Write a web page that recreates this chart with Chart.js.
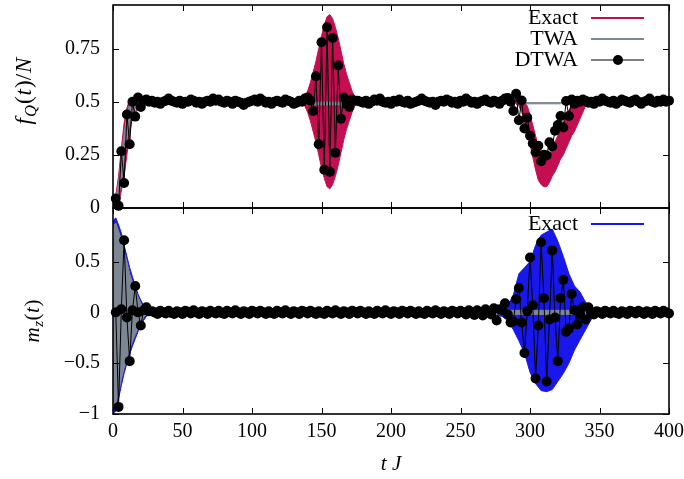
<!DOCTYPE html>
<html>
<head>
<meta charset="utf-8">
<script src="https://cdn.jsdelivr.net/npm/chart.js@4.4.0/dist/chart.umd.min.js"></script>
<style>
  html, body { margin: 0; padding: 0; background: #fff; }
  #wrap { position: relative; width: 684px; height: 479px; }
  #wrap canvas { position: absolute; left: 0; top: 0; }
</style>
</head>
<body>
<div id="wrap">
  <canvas id="topChart" width="684" height="479"></canvas>
  <canvas id="bottomChart" width="684" height="479"></canvas>
</div>
<script>
// axis ticks
const xTickValues = [0, 50, 100, 150, 200, 250, 300, 350, 400];
const topYTicks = [0, 0.25, 0.5, 0.75];
const bottomYTicks = [-1, -0.5, 0, 0.5];

// DTWA sample times (every 2 time units)
const dtwaTimes = [
  2, 4, 6, 8, 10, 12, 14, 16, 18, 20, 22, 24, 26, 28, 30, 32, 34, 36, 38, 40,
  42, 44, 46, 48, 50, 52, 54, 56, 58, 60, 62, 64, 66, 68, 70, 72, 74, 76, 78, 80,
  82, 84, 86, 88, 90, 92, 94, 96, 98, 100, 102, 104, 106, 108, 110, 112, 114, 116, 118, 120,
  122, 124, 126, 128, 130, 132, 134, 136, 138, 140, 142, 144, 146, 148, 150, 152, 154, 156, 158, 160,
  162, 164, 166, 168, 170, 172, 174, 176, 178, 180, 182, 184, 186, 188, 190, 192, 194, 196, 198, 200,
  202, 204, 206, 208, 210, 212, 214, 216, 218, 220, 222, 224, 226, 228, 230, 232, 234, 236, 238, 240,
  242, 244, 246, 248, 250, 252, 254, 256, 258, 260, 262, 264, 266, 268, 270, 272, 274, 276, 278, 280,
  282, 284, 286, 288, 290, 292, 294, 296, 298, 300, 302, 304, 306, 308, 310, 312, 314, 316, 318, 320,
  322, 324, 326, 328, 330, 332, 334, 336, 338, 340, 342, 344, 346, 348, 350, 352, 354, 356, 358, 360,
  362, 364, 366, 368, 370, 372, 374, 376, 378, 380, 382, 384, 386, 388, 390, 392, 394, 396, 398, 400
];

// f_Q(t)/N, DTWA
const dtwaTop = [
  0.045, 0.01, 0.267, 0.118, 0.44, 0.30, 0.50, 0.43, 0.52, 0.475,
  0.505, 0.51, 0.50, 0.505, 0.495, 0.50, 0.49, 0.50, 0.505, 0.515,
  0.505, 0.50, 0.495, 0.505, 0.49, 0.50, 0.50, 0.51, 0.505, 0.495,
  0.50, 0.49, 0.50, 0.505, 0.50, 0.515, 0.505, 0.51, 0.50, 0.495,
  0.505, 0.50, 0.49, 0.505, 0.50, 0.495, 0.485, 0.495, 0.50, 0.505,
  0.51, 0.50, 0.515, 0.505, 0.495, 0.50, 0.49, 0.50, 0.505, 0.50,
  0.495, 0.51, 0.505, 0.50, 0.49, 0.495, 0.505, 0.50, 0.515, 0.52,
  0.505,
  0.456, 0.62, 0.30, 0.78, 0.18, 0.85, 0.17, 0.80, 0.26, 0.67, 0.42, 0.52, 0.49, 0.475, 0.51, 0.505,
  0.505, 0.50, 0.495, 0.505, 0.49, 0.50, 0.51, 0.505, 0.515, 0.50,
  0.495, 0.50, 0.49, 0.505, 0.50, 0.51, 0.50, 0.495, 0.505, 0.49,
  0.495, 0.50, 0.505, 0.515, 0.505, 0.50, 0.495, 0.50, 0.485, 0.50,
  0.505, 0.50, 0.51, 0.505, 0.495, 0.50, 0.49, 0.505, 0.50, 0.515,
  0.505, 0.495, 0.50, 0.49, 0.50, 0.505, 0.51, 0.50, 0.495, 0.505,
  0.50, 0.49, 0.505, 0.515,
  0.518, 0.50, 0.456, 0.537, 0.413, 0.506, 0.374, 0.425, 0.34, 0.304,
  0.262, 0.293, 0.22, 0.251, 0.247, 0.309, 0.29, 0.363, 0.39, 0.433,
  0.379, 0.503, 0.433, 0.51, 0.49, 0.505,
  0.50, 0.51, 0.505, 0.495, 0.50, 0.49, 0.505, 0.50, 0.515, 0.505,
  0.50, 0.495, 0.505, 0.49, 0.50, 0.51, 0.505, 0.50, 0.495, 0.505,
  0.51, 0.50, 0.49, 0.50, 0.505, 0.515, 0.50, 0.495, 0.505, 0.50,
  0.51, 0.50, 0.505
];

// m_z(t), DTWA
const dtwaBottom = [
  0.0, -0.93, 0.03, 0.71, -0.05, -0.48, 0.02, 0.26, 0.0, -0.13, 0.02, 0.05, 0.01,
  0.01, 0.0, -0.015, 0.015, 0.0, -0.01, 0.015, -0.005, -0.015, 0.01,
  0.0, -0.015, 0.015, 0.005, -0.01, 0.02, 0.0, -0.015, 0.01, 0.0,
  -0.015, 0.015, 0.0, -0.01, 0.015, -0.005, -0.015, 0.015, 0.0, -0.01,
  0.02, 0.0, -0.015, 0.01, 0.0, -0.015, 0.015, 0.005, -0.01, 0.015,
  0.0, -0.015, 0.01, -0.005, -0.015, 0.015, 0.0, -0.01, 0.02, 0.0,
  -0.015, 0.01, 0.0, -0.015, 0.015, 0.005, -0.01, 0.015, 0.0, -0.015,
  0.01, -0.005, -0.015, 0.015, 0.0, -0.01, 0.02, 0.0, -0.015, 0.01,
  0.0, -0.015, 0.015, 0.005, -0.01, 0.015, 0.0, -0.015, 0.01, -0.005,
  -0.015, 0.015, 0.0, -0.01, 0.02, 0.0, -0.015, 0.01, 0.0, -0.015,
  0.015, 0.005, -0.01, 0.015, 0.0, -0.015, 0.01, -0.005, -0.015, 0.015,
  0.0, -0.01, 0.02, 0.0, -0.015, 0.01, 0.0, -0.015, 0.015, 0.005,
  -0.01, 0.015, 0.0, -0.02, 0.02, 0.0, -0.025, 0.02, 0.0, -0.03,
  0.03, 0.0, -0.02,
  0.04, -0.08, 0.03, 0.02, 0.09, -0.02, -0.1, -0.09, 0.13, 0.24,
  -0.1, -0.4, 0.01, 0.54, 0.07, -0.65, -0.13, 0.69, 0.14, -0.68,
  -0.07, 0.61, -0.05, -0.48, 0.14, 0.32, -0.19, -0.16, 0.18, 0.02,
  -0.12, -0.02, 0.05, -0.07, 0.05, 0.0, -0.02,
  0.01, 0.0, -0.015, 0.015, 0.0, -0.01, 0.015, -0.005, -0.015, 0.01,
  0.0, -0.015, 0.015, 0.005, -0.01, 0.015, 0.0, -0.015, 0.01, 0.0,
  -0.015, 0.015, 0.0, -0.01, 0.015, 0.0, -0.01
];

// Exact f_Q(t)/N: fast oscillation, drawn as its lower / upper envelope
const exactTopT = [
  0, 2, 4, 6, 8, 10, 12, 14, 16, 18, 20, 22,
  136, 138, 140, 142, 144, 146, 148, 150, 152, 154, 156, 158, 160, 162, 164, 166, 168, 170, 172, 174, 176,
  288, 290, 292, 294, 296, 298, 300, 302, 304, 306, 308, 310, 312, 314, 316, 318, 320, 322, 324, 326, 328,
  330, 332, 334, 336, 338, 340, 342, 344,
  400
];
const exactTopLower = [
  0, 0, 0.02, 0.08, 0.15, 0.25, 0.35, 0.43, 0.47, 0.49, 0.5, 0.5,
  0.5, 0.48, 0.45, 0.41, 0.36, 0.31, 0.25, 0.19, 0.14, 0.10, 0.09, 0.11, 0.15, 0.20, 0.26, 0.32, 0.37, 0.41, 0.45, 0.48, 0.5,
  0.5, 0.49, 0.48, 0.45, 0.41, 0.36, 0.30, 0.24, 0.18, 0.13, 0.11, 0.10, 0.10, 0.12, 0.15, 0.17, 0.20, 0.23, 0.25, 0.28, 0.31,
  0.34, 0.36, 0.39, 0.42, 0.45, 0.48, 0.50, 0.5,
  0.5
];
const exactTopUpper = [
  0, 0.06, 0.15, 0.28, 0.40, 0.47, 0.51, 0.52, 0.52, 0.51, 0.5, 0.5,
  0.5, 0.52, 0.55, 0.59, 0.64, 0.69, 0.75, 0.81, 0.86, 0.90, 0.91, 0.89, 0.85, 0.80, 0.74, 0.68, 0.63, 0.59, 0.55, 0.52, 0.5,
  0.5, 0.51, 0.51, 0.51, 0.50, 0.48, 0.44, 0.39, 0.34, 0.29, 0.26, 0.24, 0.24, 0.25, 0.28, 0.31, 0.34, 0.37, 0.40, 0.43, 0.46,
  0.48, 0.50, 0.51, 0.51, 0.51, 0.51, 0.5, 0.5,
  0.5
];

// TWA f_Q(t)/N envelope
const twaTopT = [0, 2, 4, 6, 8, 10, 12, 14, 16, 18, 20, 22, 138, 140, 172, 174, 288, 290, 322, 324, 400];
const twaTopLower = [0, 0.01, 0.05, 0.12, 0.22, 0.32, 0.40, 0.45, 0.48, 0.49, 0.495, 0.5, 0.5, 0.485, 0.485, 0.5, 0.5, 0.49, 0.49, 0.5, 0.5];
const twaTopUpper = [0, 0.04, 0.12, 0.24, 0.35, 0.44, 0.49, 0.51, 0.51, 0.505, 0.5, 0.5, 0.5, 0.498, 0.498, 0.5, 0.5, 0.496, 0.496, 0.5, 0.5];

// Exact m_z(t) envelope
const exactBotT = [
  0, 2, 4, 6, 8, 10, 12, 14, 16, 18, 20, 22, 24, 26, 28,
  270, 276, 280, 284, 288, 292, 296, 300, 304, 308, 312, 316, 320, 324, 328, 332, 336, 340, 344, 348, 352, 400
];
const exactBotLower = [
  -1, -0.97, -0.85, -0.72, -0.6, -0.5, -0.41, -0.33, -0.26, -0.19, -0.13, -0.08, -0.04, -0.02, 0,
  0, -0.03, -0.04, -0.08, -0.17, -0.28, -0.4, -0.59, -0.7, -0.77, -0.78, -0.76, -0.68, -0.6, -0.5, -0.37, -0.27, -0.17, -0.07, -0.02, 0, 0
];
const exactBotUpper = [
  0.9, 0.93, 0.86, 0.78, 0.66, 0.55, 0.44, 0.35, 0.26, 0.18, 0.12, 0.07, 0.03, 0.01, 0,
  0, 0.03, 0.04, 0.07, 0.17, 0.38, 0.44, 0.5, 0.66, 0.76, 0.79, 0.82, 0.7, 0.55, 0.38, 0.26, 0.2, 0.1, 0.05, 0.02, 0, 0
];

// TWA m_z(t) envelope
const twaBotT = [0, 2, 4, 6, 8, 10, 12, 14, 16, 18, 20, 22, 24, 26, 28, 272, 274, 344, 346, 400];
const twaBotLower = [-0.95, -0.9, -0.79, -0.66, -0.55, -0.45, -0.36, -0.29, -0.22, -0.16, -0.1, -0.05, -0.02, -0.01, 0, 0, -0.02, -0.02, 0, 0];
const twaBotUpper = [0.85, 0.88, 0.8, 0.72, 0.6, 0.5, 0.38, 0.3, 0.22, 0.15, 0.09, 0.05, 0.02, 0.01, 0, 0, 0.02, 0.02, 0, 0];

const CRIMSON = 'rgb(196, 14, 82)';
const BLUE = 'rgb(24, 24, 235)';
const GRAY = 'rgb(125, 135, 148)';
const FONT = '"Liberation Serif", "DejaVu Serif", serif';
const FS = 20;

Chart.defaults.font.family = FONT;
Chart.defaults.color = '#000';

function pts(ts, ys) {
  return ts.map((t, i) => ({ x: t, y: ys[i] }));
}

function fmt(v) {
  return String(v).replace('-', '\u2212');
}

// text made of runs: 'r' roman, 'i' italic, 's' italic subscript
function drawRich(ctx, runs, x, y, size, align, gap) {
  gap = gap || 0;
  const fontOf = (r) => (r[1] === 'r' ? '' : 'italic ') + (r[1] === 's' ? size * 0.72 : size) + 'px ' + FONT;
  const widths = runs.map(r => { ctx.font = fontOf(r); return ctx.measureText(r[0]).width + gap; });
  const total = widths.reduce((a, b) => a + b, 0) - gap;
  let cx = align === 'center' ? x - total / 2 : (align === 'right' ? x - total : x);
  ctx.textAlign = 'left';
  ctx.textBaseline = 'middle';
  runs.forEach((r, i) => {
    ctx.font = fontOf(r);
    ctx.fillText(r[0], cx, y + (r[1] === 's' ? size * 0.28 : 0));
    cx += widths[i];
  });
}

function framePlugin(yTicks, extra) {
  return {
    id: 'frame',
    afterDraw(chart) {
      const { ctx, chartArea: a, scales } = chart;
      ctx.save();
      ctx.strokeStyle = '#000';
      ctx.lineWidth = 1;
      ctx.beginPath();
      xTickValues.forEach(v => {
        const x = Math.round(scales.x.getPixelForValue(v)) + 0.5;
        ctx.moveTo(x, a.top); ctx.lineTo(x, a.top + 6);
        ctx.moveTo(x, a.bottom); ctx.lineTo(x, a.bottom - 6);
      });
      yTicks.forEach(v => {
        const y = Math.round(scales.y.getPixelForValue(v)) + 0.5;
        ctx.moveTo(a.left, y); ctx.lineTo(a.left + 6, y);
        ctx.moveTo(a.right, y); ctx.lineTo(a.right - 6, y);
      });
      ctx.stroke();
      ctx.lineWidth = 1.6;
      ctx.strokeRect(a.left, a.top, a.right - a.left, a.bottom - a.top);
      ctx.fillStyle = '#000';
      extra(ctx, a);
      ctx.restore();
    }
  };
}

function bandSets(ts, lower, upper, color, order) {
  return [
    { data: pts(ts, lower), borderColor: color, borderWidth: 1, pointRadius: 0, fill: false, order: order },
    { data: pts(ts, upper), borderColor: color, backgroundColor: color, borderWidth: 1, pointRadius: 0, fill: '-1', order: order }
  ];
}

function dtwaSet(values) {
  return {
    data: pts(dtwaTimes, values),
    borderColor: '#000', borderWidth: 1,
    pointRadius: 5, pointBackgroundColor: '#000', pointBorderWidth: 0,
    fill: false, clip: false, order: 0
  };
}

function yScale(min, max, ticks) {
  return {
    type: 'linear', min: min, max: max,
    grid: { display: false, drawTicks: false },
    border: { display: false },
    ticks: { font: { size: FS }, padding: 13, callback: v => fmt(v) },
    afterBuildTicks: s => { s.ticks = ticks.map(v => ({ value: v })); },
    afterFit: s => { s.width = 113; s.paddingTop = 0; s.paddingBottom = 0; }
  };
}

function legendLine(ctx, label, y, color, withDot) {
  drawRich(ctx, [[label, 'r']], 578, y, 22, 'right');
  ctx.strokeStyle = color;
  ctx.lineWidth = withDot ? 1 : 2;
  ctx.beginPath();
  ctx.moveTo(591, y); ctx.lineTo(644, y);
  ctx.stroke();
  if (withDot) {
    ctx.fillStyle = '#000';
    ctx.beginPath();
    ctx.arc(618, y, 5, 0, Math.PI * 2);
    ctx.fill();
  }
}

const common = {
  responsive: false,
  animation: false,
  devicePixelRatio: 1,
  elements: { line: { tension: 0 } },
  plugins: { legend: { display: false }, tooltip: { enabled: false } }
};

// top panel: f_Q(t)/N
new Chart(document.getElementById('topChart'), {
  type: 'line',
  data: {
    datasets: [
      dtwaSet(dtwaTop),
      ...bandSets(twaTopT, twaTopLower, twaTopUpper, GRAY, 1),
      ...bandSets(exactTopT, exactTopLower, exactTopUpper, CRIMSON, 2)
    ]
  },
  options: Object.assign({}, common, {
    layout: { padding: { left: 0, right: 15, top: 3, bottom: 271 } },
    scales: {
      x: { type: 'linear', min: 0, max: 400, display: false },
      y: yScale(0, 0.955, topYTicks)
    }
  }),
  plugins: [framePlugin(topYTicks, (ctx, a) => {
    ctx.save();
    ctx.translate(25, 91);
    ctx.rotate(-Math.PI / 2);
    drawRich(ctx, [['f', 'i'], ['Q', 's'], ['(', 'r'], ['t', 'i'], [')/', 'r'], ['N', 'i']], 0, 0, 23, 'center', 1);
    ctx.restore();
    legendLine(ctx, 'Exact', 18, CRIMSON, false);
    legendLine(ctx, 'TWA', 39, GRAY, false);
    legendLine(ctx, 'DTWA', 60, '#000', true);
  })]
});

// bottom panel: m_z(t)
new Chart(document.getElementById('bottomChart'), {
  type: 'line',
  data: {
    datasets: [
      dtwaSet(dtwaBottom),
      ...bandSets(twaBotT, twaBotLower, twaBotUpper, GRAY, 1),
      ...bandSets(exactBotT, exactBotLower, exactBotUpper, BLUE, 2)
    ]
  },
  options: Object.assign({}, common, {
    layout: { padding: { left: 0, right: 15, top: 208, bottom: 0 } },
    scales: {
      x: {
        type: 'linear', min: 0, max: 400,
        grid: { display: false, drawTicks: false },
        border: { display: false },
        ticks: { font: { size: FS, lineHeight: 1.2 }, padding: 6, maxRotation: 0, autoSkip: false },
        afterBuildTicks: s => { s.ticks = xTickValues.map(v => ({ value: v })); },
        afterFit: s => { s.height = 65; s.paddingLeft = 0; s.paddingRight = 0; }
      },
      y: yScale(-1, 1.027, bottomYTicks)
    }
  }),
  plugins: [framePlugin(bottomYTicks, (ctx, a) => {
    ctx.save();
    ctx.translate(33, 321);
    ctx.rotate(-Math.PI / 2);
    drawRich(ctx, [['m', 'i'], ['z', 's'], ['(', 'r'], ['t', 'i'], [')', 'r']], 0, 0, 21, 'center', 0.5);
    ctx.restore();
    drawRich(ctx, [['t', 'i'], [' ', 'r'], ['J', 'i']], 391, 464, 21, 'center');
    legendLine(ctx, 'Exact', 224, BLUE, false);
  })]
});
</script>
</body>
</html>
